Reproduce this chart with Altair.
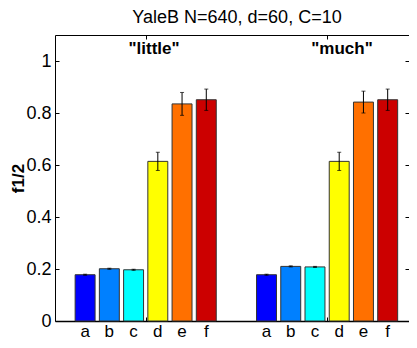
import altair as alt
import pandas as pd

# ---- data ----
groups = ['"little"', '"much"']
letters = ["a", "b", "c", "d", "e", "f"]
colors = ["#0000FF", "#0080FF", "#00FFFF", "#FFFF00", "#FF7000", "#CC0000"]
little_vals = [0.178, 0.201, 0.197, 0.614, 0.835, 0.851]
little_err = [0.002, 0.002, 0.002, 0.035, 0.044, 0.041]
much_vals = [0.178, 0.210, 0.208, 0.614, 0.842, 0.851]
much_err = [0.002, 0.002, 0.002, 0.035, 0.042, 0.041]
y_ticks = [0, 0.2, 0.4, 0.6, 0.8, 1.0]
group_centers = [1, 2]

# ---- layout parameters ----
FONT = "Liberation Sans"
FS = 17
W, H = 354, 286
XD = [0.5, 2.4515]
YD = [0, 1.1]
SPACING = 0.1336
HALF = 0.055

rows = []
for g, c, vals, errs in zip(groups, group_centers, [little_vals, much_vals], [little_err, much_err]):
    for i, (l, v, e) in enumerate(zip(letters, vals, errs)):
        p = c + (i - 2.5) * SPACING
        rows.append(dict(group=g, letter=l, val=v, lo=v - e, hi=v + e,
                         pos=p, x1=p - HALF, x2=p + HALF))
df = pd.DataFrame(rows)

lab = pd.DataFrame({"group": groups, "gx": [c + 0.046 + 0.036 * k for k, c in enumerate(group_centers)]})

xs = alt.Scale(domain=XD, nice=False, zero=False)
ys = alt.Scale(domain=YD, nice=False, zero=False)

base = alt.Chart(df)

bars = base.mark_bar(stroke="#333333", strokeWidth=1).encode(
    x=alt.X("x1:Q", scale=xs, axis=alt.Axis(orient="bottom", domain=True, domainColor="black",
                                            domainWidth=1.5, ticks=False, labels=False, grid=False,
                                            title=None)),
    x2="x2:Q",
    y=alt.Y("val:Q", scale=ys, axis=alt.Axis(orient="left", values=y_ticks, format="~g", ticks=False,
                                             tickSize=0, labelPadding=4, labelFontSize=18, labelFont=FONT,
                                             labelColor="black", grid=False, domainColor="black",
                                             title="f1/2", titleFont=FONT, titleFontSize=FS,
                                             titleFontWeight="bold", titleColor="black",
                                             titleAngle=270, titleX=-31.5, titleY=H / 2,
                                             titleAlign="center", titleBaseline="alphabetic")),
    y2=alt.datum(0),
    color=alt.Color("letter:N", scale=alt.Scale(domain=letters, range=colors), legend=None),
)

rules = base.mark_rule(color="black", strokeWidth=1).encode(
    x=alt.X("pos:Q", scale=xs, axis=alt.Axis(orient="bottom", offset=-4, domain=False, values=group_centers,
                                             ticks=True, tickSize=4, tickColor="black", labels=False,
                                             grid=False, title=None)),
    y=alt.Y("lo:Q", scale=ys, axis=alt.Axis(orient="right", offset=-4, domain=False, values=y_ticks,
                                            ticks=True, tickSize=4, tickColor="black", labels=False,
                                            grid=False, title=None)),
    y2="hi:Q",
)

caps_hi = base.mark_tick(color="black", size=4, thickness=1, orient="horizontal").encode(
    x=alt.X("pos:Q", scale=xs, axis=alt.Axis(orient="top", domain=True, domainColor="black", ticks=False,
                                             labels=False, grid=False, title=None)),
    y=alt.Y("hi:Q", scale=ys, axis=alt.Axis(orient="left", offset=-4, domain=False, values=y_ticks,
                                            ticks=True, tickSize=4, tickColor="black", labels=False,
                                            grid=False, title=None)),
)

caps_lo = base.mark_tick(color="black", size=4, thickness=1, orient="horizontal").encode(
    x=alt.X("pos:Q", scale=xs, axis=alt.Axis(orient="top", offset=-4, domain=False, values=group_centers,
                                             ticks=True, tickSize=4, tickColor="black", labels=False,
                                             grid=False, title=None)),
    y=alt.Y("lo:Q", scale=ys, axis=None),
)

letters_txt = base.mark_text(font=FONT, fontSize=FS, color="black", baseline="alphabetic").encode(
    x=alt.X("pos:Q", scale=xs, axis=None),
    y=alt.value(H + 16),
    text="letter:N",
)

group_txt = alt.Chart(lab).mark_text(font=FONT, fontSize=FS, fontWeight="bold", color="black",
                                     baseline="middle").encode(
    x=alt.X("gx:Q", scale=xs, axis=None),
    y=alt.Y("yy:Q", scale=ys, axis=None),
    text="group:N",
).transform_calculate(yy="1.045")

chart = alt.layer(bars, rules, caps_hi, caps_lo, letters_txt, group_txt).resolve_scale(
    x="independent", y="independent"
).properties(
    width=W, height=H,
    title=alt.TitleParams("YaleB N=640, d=60, C=10", font=FONT, fontSize=18, fontWeight="normal",
                          color="black", anchor="middle", baseline="alphabetic", offset=13, dy=19, dx=5),
    autosize=alt.AutoSizeParams(type="none"),
    padding={"left": 47, "top": 27, "right": 0, "bottom": 19},
).configure_view(stroke=None)

chart.save("out.html", embed_options={"renderer": "svg", "actions": False})
